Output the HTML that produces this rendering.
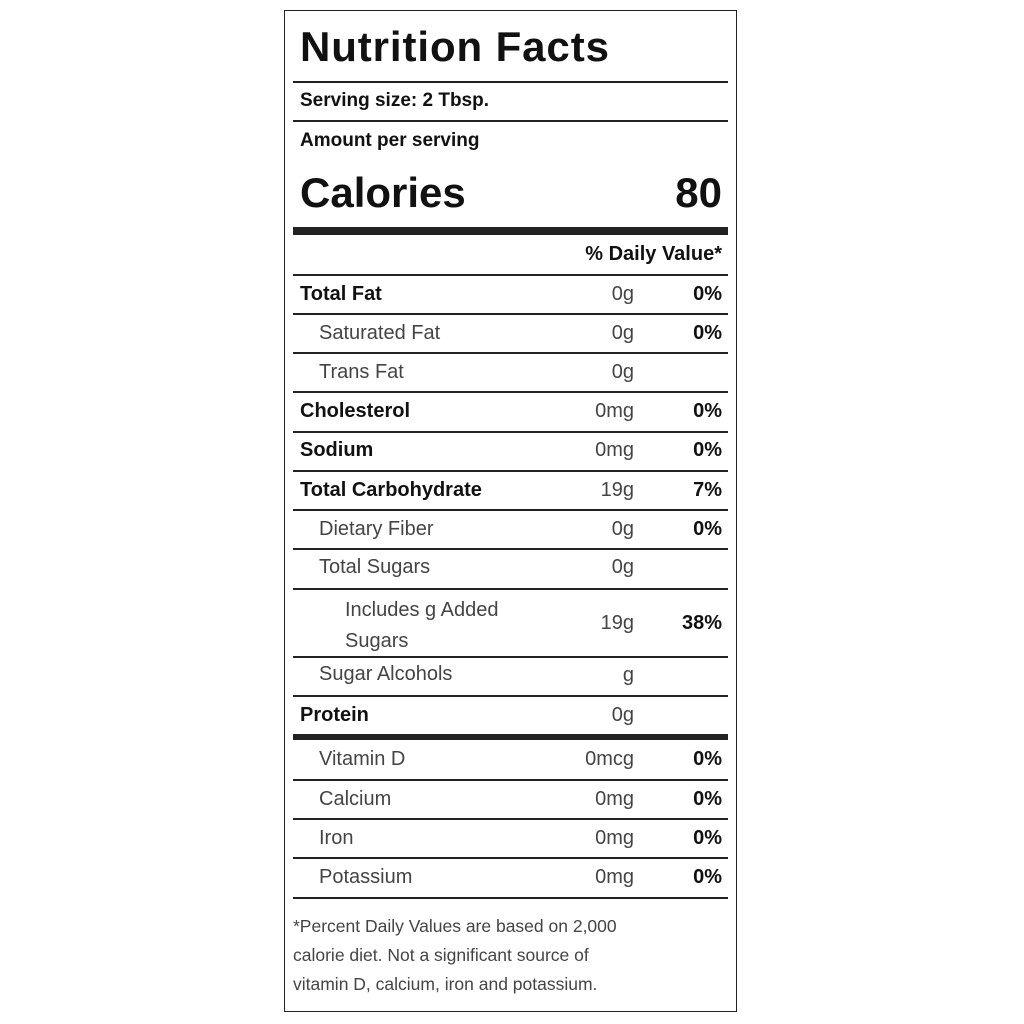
<!DOCTYPE html><html><head><style>
body{margin:0;width:1024px;height:1024px;background:#fff;position:relative;font-family:"Liberation Sans",sans-serif;color:#111}
.box{position:absolute;left:284px;top:10px;width:451px;height:1000px;border:1.5px solid #222}
.l{position:absolute;left:293px;width:435px;height:1.5px;background:#222}
.t{position:absolute;white-space:nowrap;font-size:20px;line-height:24px}
.b{font-weight:bold}
.r{text-align:right}
.g{color:#444}
</style></head><body>
<div class="box"></div>
<div class="t b" style="left:300px;top:23px;font-size:42px;line-height:48px;letter-spacing:0.9px">Nutrition Facts</div>
<div class="l" style="top:81px"></div>
<div class="t b" style="left:300px;top:89px;font-size:19px">Serving size: 2 Tbsp.</div>
<div class="l" style="top:120px"></div>
<div class="t b" style="left:300px;top:129px;font-size:19px">Amount per serving</div>
<div class="t b" style="left:300px;top:168px;font-size:42px;line-height:50px">Calories</div>
<div class="t b r" style="left:600px;width:122px;top:168px;font-size:42px;line-height:50px">80</div>
<div class="l" style="top:227px;height:8px"></div>
<div class="t b r" style="left:500px;width:222px;top:242px">% Daily Value*</div>
<div class="l" style="top:274px"></div>

<div class="t b" style="left:300px;top:282px">Total Fat</div><div class="t g r" style="left:534px;width:100px;top:282px">0g</div><div class="t b r" style="left:622px;width:100px;top:282px">0%</div>
<div class="l" style="top:313px"></div>
<div class="t g" style="left:319px;top:321px">Saturated Fat</div><div class="t g r" style="left:534px;width:100px;top:321px">0g</div><div class="t b r" style="left:622px;width:100px;top:321px">0%</div>
<div class="l" style="top:352px"></div>
<div class="t g" style="left:319px;top:360px">Trans Fat</div><div class="t g r" style="left:534px;width:100px;top:360px">0g</div>
<div class="l" style="top:391px"></div>
<div class="t b" style="left:300px;top:399px">Cholesterol</div><div class="t g r" style="left:534px;width:100px;top:399px">0mg</div><div class="t b r" style="left:622px;width:100px;top:399px">0%</div>
<div class="l" style="top:431px"></div>
<div class="t b" style="left:300px;top:438px">Sodium</div><div class="t g r" style="left:534px;width:100px;top:438px">0mg</div><div class="t b r" style="left:622px;width:100px;top:438px">0%</div>
<div class="l" style="top:470px"></div>
<div class="t b" style="left:300px;top:478px">Total Carbohydrate</div><div class="t g r" style="left:534px;width:100px;top:478px">19g</div><div class="t b r" style="left:622px;width:100px;top:478px">7%</div>
<div class="l" style="top:509px"></div>
<div class="t g" style="left:319px;top:517px">Dietary Fiber</div><div class="t g r" style="left:534px;width:100px;top:517px">0g</div><div class="t b r" style="left:622px;width:100px;top:517px">0%</div>
<div class="l" style="top:548px"></div>
<div class="t g" style="left:319px;top:555px">Total Sugars</div><div class="t g r" style="left:534px;width:100px;top:555px">0g</div>
<div class="l" style="top:588px"></div>
<div class="t g" style="left:345px;top:595px;line-height:31px">Includes g Added<br>Sugars</div><div class="t g r" style="left:534px;width:100px;top:611px">19g</div><div class="t b r" style="left:622px;width:100px;top:611px">38%</div>
<div class="l" style="top:656px"></div>
<div class="t g" style="left:319px;top:662px">Sugar Alcohols</div><div class="t g r" style="left:534px;width:100px;top:663px">g</div>
<div class="l" style="top:695px"></div>
<div class="t b" style="left:300px;top:703px">Protein</div><div class="t g r" style="left:534px;width:100px;top:703px">0g</div>
<div class="l" style="top:734px;height:6px"></div>
<div class="t g" style="left:319px;top:747px">Vitamin D</div><div class="t g r" style="left:534px;width:100px;top:747px">0mcg</div><div class="t b r" style="left:622px;width:100px;top:747px">0%</div>
<div class="l" style="top:779px"></div>
<div class="t g" style="left:319px;top:787px">Calcium</div><div class="t g r" style="left:534px;width:100px;top:787px">0mg</div><div class="t b r" style="left:622px;width:100px;top:787px">0%</div>
<div class="l" style="top:818px"></div>
<div class="t g" style="left:319px;top:826px">Iron</div><div class="t g r" style="left:534px;width:100px;top:826px">0mg</div><div class="t b r" style="left:622px;width:100px;top:826px">0%</div>
<div class="l" style="top:857px"></div>
<div class="t g" style="left:319px;top:865px">Potassium</div><div class="t g r" style="left:534px;width:100px;top:865px">0mg</div><div class="t b r" style="left:622px;width:100px;top:865px">0%</div>
<div class="l" style="top:897px"></div>
<div class="t g" style="left:293px;top:912px;font-size:17.5px;line-height:29px">*Percent Daily Values are based on 2,000<br>calorie diet. Not a significant source of<br>vitamin D, calcium, iron and potassium.</div>
</body></html>
